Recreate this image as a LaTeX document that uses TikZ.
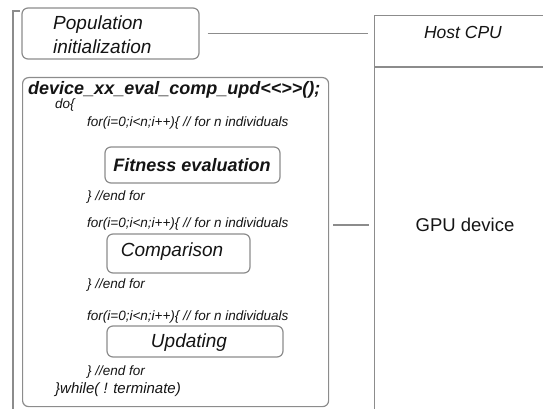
\documentclass[tikz,border=0pt]{standalone}
\usepackage{fontspec}
\setmainfont{Liberation Sans}
\definecolor{linegray}{RGB}{140,140,140}
\definecolor{txt}{RGB}{20,20,20}
\begin{document}
\begin{tikzpicture}[x=1pt,y=-1pt,
  box/.style={draw=linegray, line width=1.2pt, rounded corners=6pt, inner sep=0pt},
  plain/.style={draw=linegray, line width=1.2pt, inner sep=0pt},
  conn/.style={draw=linegray, line width=1.2pt},
  code/.style={anchor=west, inner sep=0pt, text=txt, font=\fontsize{13.5}{15}\selectfont\itshape},
  title/.style={inner sep=0pt, text=txt, font=\fontsize{19}{22}\selectfont\itshape}
]
\useasboundingbox (0,0) rectangle (543,409);
% outer bracket
\coordinate (bt) at (20,11);
\coordinate (bc) at (13,11);
\coordinate (bb) at (13,409);
\draw[conn] (bt) -- (bc) -- (bb);
% host / gpu column
\node[plain, minimum width=174pt, minimum height=400pt, anchor=north west] (host) at (374,15) {};
\coordinate (divl) at (374,67);
\coordinate (divr) at (548,67);
\draw[conn] (divl) -- (divr);
\node[inner sep=0pt, text=txt, font=\fontsize{17.5}{20}\selectfont\itshape] (hcpu) at (463,32) {Host CPU};
\node[inner sep=0pt, text=txt, font=\fontsize{18.5}{20}\selectfont] (gpu) at (465,225) {GPU device};
% population
\node[box, minimum width=177pt, minimum height=51pt] (pop) at (110.5,33.5) {};
\node[title, align=left, anchor=west, font=\fontsize{19}{24}\selectfont\itshape] (poptxt) at (53,35) {Population\\initialization};
% device box
\node[box, minimum width=306pt, minimum height=329pt, anchor=north west] (dev) at (22,77) {};
\node[anchor=west, inner sep=0pt, text=txt, font=\fontsize{18}{20}\selectfont\bfseries\itshape] (devtxt) at (28,90) {device\_xx\_eval\_comp\_upd<\kern0pt<\kern0pt>\kern0pt>();};
\node[code] (do) at (55,105) {do\{};
\node[code] (for1) at (87,123) {for(i=0;i<n;i++)\{ // for n individuals};
\node[box, minimum width=175pt, minimum height=36pt] (fit) at (192.5,165) {};
\node[title, font=\fontsize{18}{20}\selectfont\bfseries\itshape] (fittxt) at (192,165) {Fitness evaluation};
\node[code] (end1) at (87,197) {\} //end for};
\node[code] (for2) at (87,224) {for(i=0;i<n;i++)\{ // for n individuals};
\node[box, minimum width=143pt, minimum height=39pt] (comp) at (178.5,253.5) {};
\node[title] (comptxt) at (172,252) {Comparison};
\node[code] (end2) at (87,285) {\} //end for};
\node[code] (for3) at (87,317) {for(i=0;i<n;i++)\{ // for n individuals};
\node[box, minimum width=176pt, minimum height=31pt] (upd) at (195,341.5) {};
\node[title] (updtxt) at (189,343) {Updating};
\node[code] (end3) at (87,372) {\} //end for};
\node[code, font=\fontsize{15}{17}\selectfont\itshape] (wh) at (55,390) {\}while( ! terminate)};
% connectors
\draw[conn, shorten <=8pt, shorten >=6pt] (pop.east) -- (host.west |- pop.east);
\draw[conn, shorten <=4pt, shorten >=5pt] (dev.east |- gpu) -- (host.west |- gpu);
\end{tikzpicture}
\end{document}
